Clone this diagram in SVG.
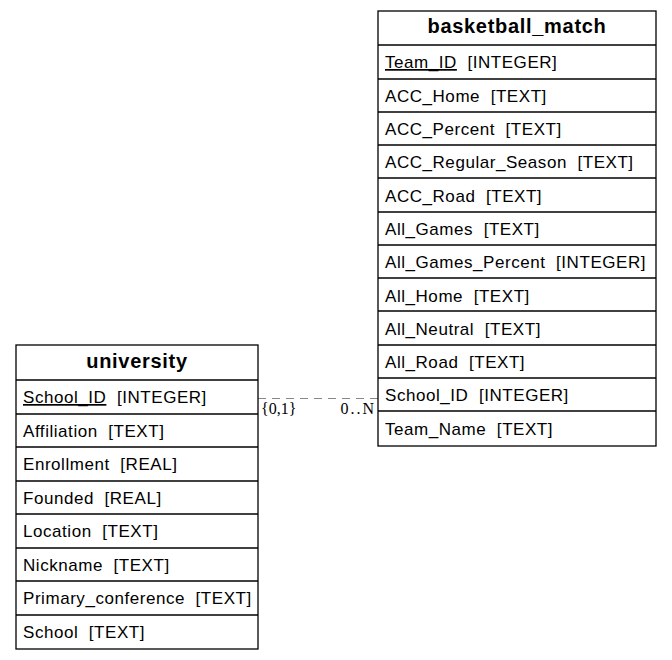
<svg xmlns="http://www.w3.org/2000/svg" width="672" height="660" viewBox="0 0 672 660">
<style>
.box{fill:#fff;stroke:#000;stroke-width:1.3}
.ln{stroke:#000;stroke-width:1.3}
.h{font-family:"Liberation Sans",Arial,sans-serif;font-weight:bold;font-size:20px;letter-spacing:0.7px;text-anchor:middle}
.t{font-family:"Liberation Sans",Arial,sans-serif;font-size:17px;letter-spacing:0.55px}
.c{font-family:"Liberation Serif","Times New Roman",serif;font-size:16px}
</style>
<rect width="672" height="660" fill="#fff"/>
<g id="connectors">
<line x1="258" y1="398.5" x2="378" y2="398.5" stroke="#888" stroke-width="1.2" stroke-dasharray="8,6"/>
<text class="c" x="261" y="414">{0,1}</text>
<text class="c" x="376" y="414" text-anchor="end" letter-spacing="2">0..N</text>
</g>
<g id="basketball_match">
<rect class="box" x="378" y="11" width="278" height="435"/>
<text class="h" x="517" y="33">basketball_match</text>
<line class="ln" x1="378" y1="45" x2="656" y2="45"/>
<line class="ln" x1="378" y1="79" x2="656" y2="79"/>
<line class="ln" x1="378" y1="112" x2="656" y2="112"/>
<line class="ln" x1="378" y1="145" x2="656" y2="145"/>
<line class="ln" x1="378" y1="178" x2="656" y2="178"/>
<line class="ln" x1="378" y1="212" x2="656" y2="212"/>
<line class="ln" x1="378" y1="245" x2="656" y2="245"/>
<line class="ln" x1="378" y1="278" x2="656" y2="278"/>
<line class="ln" x1="378" y1="311" x2="656" y2="311"/>
<line class="ln" x1="378" y1="345" x2="656" y2="345"/>
<line class="ln" x1="378" y1="378" x2="656" y2="378"/>
<line class="ln" x1="378" y1="411" x2="656" y2="411"/>
<text class="t" x="385" y="68" xml:space="preserve"><tspan text-decoration="underline">Team_ID</tspan>  [INTEGER]</text>
<text class="t" x="385" y="102" xml:space="preserve">ACC_Home  [TEXT]</text>
<text class="t" x="385" y="135" xml:space="preserve">ACC_Percent  [TEXT]</text>
<text class="t" x="385" y="168" xml:space="preserve">ACC_Regular_Season  [TEXT]</text>
<text class="t" x="385" y="202" xml:space="preserve">ACC_Road  [TEXT]</text>
<text class="t" x="385" y="235" xml:space="preserve">All_Games  [TEXT]</text>
<text class="t" x="385" y="268" xml:space="preserve">All_Games_Percent  [INTEGER]</text>
<text class="t" x="385" y="302" xml:space="preserve">All_Home  [TEXT]</text>
<text class="t" x="385" y="335" xml:space="preserve">All_Neutral  [TEXT]</text>
<text class="t" x="385" y="368" xml:space="preserve">All_Road  [TEXT]</text>
<text class="t" x="385" y="401" xml:space="preserve">School_ID  [INTEGER]</text>
<text class="t" x="385" y="435" xml:space="preserve">Team_Name  [TEXT]</text>
</g>
<g id="university">
<rect class="box" x="16" y="345" width="242" height="304"/>
<text class="h" x="137" y="368">university</text>
<line class="ln" x1="16" y1="380" x2="258" y2="380"/>
<line class="ln" x1="16" y1="414" x2="258" y2="414"/>
<line class="ln" x1="16" y1="447" x2="258" y2="447"/>
<line class="ln" x1="16" y1="481" x2="258" y2="481"/>
<line class="ln" x1="16" y1="514" x2="258" y2="514"/>
<line class="ln" x1="16" y1="548" x2="258" y2="548"/>
<line class="ln" x1="16" y1="581" x2="258" y2="581"/>
<line class="ln" x1="16" y1="615" x2="258" y2="615"/>
<text class="t" x="23" y="403" xml:space="preserve"><tspan text-decoration="underline">School_ID</tspan>  [INTEGER]</text>
<text class="t" x="23" y="437" xml:space="preserve">Affiliation  [TEXT]</text>
<text class="t" x="23" y="470" xml:space="preserve">Enrollment  [REAL]</text>
<text class="t" x="23" y="504" xml:space="preserve">Founded  [REAL]</text>
<text class="t" x="23" y="537" xml:space="preserve">Location  [TEXT]</text>
<text class="t" x="23" y="571" xml:space="preserve">Nickname  [TEXT]</text>
<text class="t" x="23" y="604" xml:space="preserve">Primary_conference  [TEXT]</text>
<text class="t" x="23" y="638" xml:space="preserve">School  [TEXT]</text>
</g>
</svg>
